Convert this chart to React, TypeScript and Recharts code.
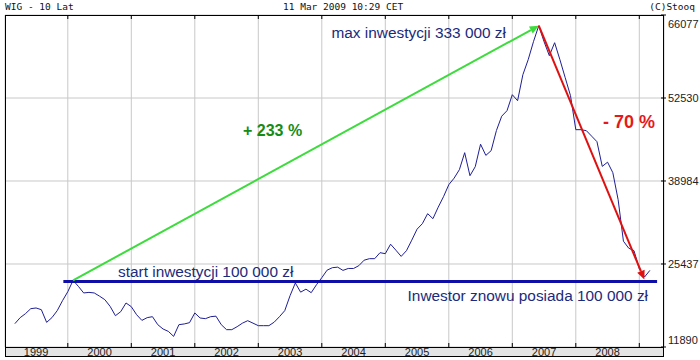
import { ComposedChart, Line, XAxis, YAxis, CartesianGrid, ReferenceLine } from "recharts";

// WIG monthly closes, Mar 1999 .. Mar 2009
const FIRST_YEAR = 1999;
const FIRST_MONTH = 3;
const WIG = [
  15700, 16680, 17330, 18145, 18260, 17980, 15910, 16680, 17820, 19450,
  20920, 22765, 21785, 20710, 20805, 20710, 20185, 19615, 18520, 17000,
  17655, 19075, 18470, 17165, 16235, 16680, 16840, 15535, 14830, 14440,
  13625, 15535, 15650, 15860, 17445, 16625, 16515, 16840, 16920, 15535,
  14720, 14720, 15210, 15780, 16185, 15780, 15370, 15370, 15370, 15940,
  16840, 17820, 20265, 22340, 20840, 21330, 20755, 22060, 23205, 24430,
  24835, 24920, 24395, 24705, 24705, 25165, 26060, 26305, 26305, 27285,
  27120, 28670, 27690, 26680, 27610, 29325, 31120, 32015, 33650, 32835,
  34710, 36425, 38380, 39445, 40830, 43605, 39850, 41320, 44990, 43165,
  43930, 47225, 49560, 50460, 53070, 52090, 56335, 58780, 61720, 64330,
  61720, 59435, 61555, 58780, 55845, 52905, 47360, 47360, 47195, 46295,
  45400, 41370, 42055, 40340, 35935, 29160, 28020, 27610, 24675, 23320,
  24395,
];

const YEAR_TICKS = [2000, 2001, 2002, 2003, 2004, 2005, 2006, 2007, 2008, 2009];
const VALUE_TICKS = [11890, 25437, 38984, 52530, 66077];
const X_DOMAIN = [1999.011, 2009.389];
const Y_DOMAIN = [11890, 66077];

// annotation anchors (time in years, value in index points)
const START_LEVEL = 22600;
const START_LINE_T = [1999.93, 2009.28];
const BUY = { t: 2000.083, v: 22765 };
const PEAK = { t: 2007.417, v: 64330 };
const NOW = { t: 2009.08, v: 22900 };

const data = WIG.map((v, i) => ({ t: FIRST_YEAR + (FIRST_MONTH - 1 + i) / 12, wig: v }));

const W = 700;
const H = 360;
const PLOT_LEFT = 5;
const PLOT_TOP = 15;
const PLOT_RIGHT = 664;
const PLOT_BOTTOM = 347;
const YEAR_PX = (PLOT_RIGHT - PLOT_LEFT) / (X_DOMAIN[1] - X_DOMAIN[0]);

const AXIS_FONT = "'Liberation Sans', Arial, sans-serif";

const YearTick = (props: any) => {
  const { x, payload } = props;
  const label = payload.value - 1;
  return (
    <g>
      <line x1={x} x2={x} y1={PLOT_BOTTOM - 4} y2={PLOT_BOTTOM} stroke="#000" />
      <line x1={x} x2={x} y1={PLOT_TOP} y2={PLOT_TOP + 4} stroke="#000" />
      <text x={x - YEAR_PX / 2} y={PLOT_BOTTOM + 8.5} textAnchor="middle" fontSize={11} fontFamily={AXIS_FONT} fill="#222">
        {label}
      </text>
    </g>
  );
};

const ValueTick = (props: any) => {
  const { y, payload } = props;
  const ly = Math.min(Math.max(y, PLOT_TOP + 9), PLOT_BOTTOM - 7);
  return (
    <g>
      <line x1={PLOT_RIGHT - 3} x2={PLOT_RIGHT + 2} y1={y} y2={y} stroke="#000" />
      <text x={PLOT_RIGHT + 4} y={ly + 4} fontSize={11} fontFamily={AXIS_FONT} fill="#222">
        {payload.value}
      </text>
    </g>
  );
};

const arrow = (color: string) => (props: any) => {
  const { x1, y1, x2, y2 } = props;
  const a = Math.atan2(y2 - y1, x2 - x1);
  const len = 9;
  const half = 4;
  const bx = x2 - len * Math.cos(a);
  const by = y2 - len * Math.sin(a);
  const pts = `${x2},${y2} ${bx + half * Math.sin(a)},${by - half * Math.cos(a)} ${bx - half * Math.sin(a)},${by + half * Math.cos(a)}`;
  return (
    <g>
      <line x1={x1} y1={y1} x2={bx} y2={by} stroke={color} strokeWidth={2} />
      <polygon points={pts} fill={color} />
    </g>
  );
};

export default function App() {
  return (
    <div style={{ position: "absolute", left: 0, top: 0, width: W, height: H, background: "#fff" }}>
      {/* year band under the plot */}
      <div
        style={{
          position: "absolute",
          left: PLOT_LEFT,
          top: PLOT_BOTTOM,
          width: PLOT_RIGHT - PLOT_LEFT,
          height: 10,
          background: "#e4e4e4",
        }}
      />
      <div style={{ position: "absolute", left: 0, top: 0 }}>
        <ComposedChart width={W} height={H} data={data} margin={{ top: PLOT_TOP, right: 0, bottom: 3, left: PLOT_LEFT }}>
          <CartesianGrid stroke="#c8c8c8" />
          <XAxis
            dataKey="t"
            type="number"
            domain={X_DOMAIN}
            allowDataOverflow
            ticks={YEAR_TICKS}
            interval={0}
            height={10}
            axisLine={false}
            tickLine={false}
            tick={<YearTick />}
          />
          <YAxis
            orientation="right"
            type="number"
            domain={Y_DOMAIN}
            allowDataOverflow
            ticks={VALUE_TICKS}
            interval={0}
            width={36}
            axisLine={false}
            tickLine={false}
            tick={<ValueTick />}
          />
          <Line dataKey="wig" stroke="#1e1e96" strokeWidth={1} dot={false} isAnimationActive={false} />
          <ReferenceLine
            segment={[{ x: START_LINE_T[0], y: START_LEVEL }, { x: START_LINE_T[1], y: START_LEVEL }]}
            stroke="#0f0fa8"
            strokeWidth={3}
          />
          <ReferenceLine
            segment={[{ x: BUY.t, y: BUY.v }, { x: PEAK.t, y: PEAK.v }]}
            shape={arrow("#3cdc3c")}
          />
          <ReferenceLine
            segment={[{ x: PEAK.t, y: PEAK.v }, { x: NOW.t, y: NOW.v }]}
            shape={arrow("#e01010")}
          />
        </ComposedChart>
      </div>
      {/* frame, header and notes */}
      <svg width={W} height={H} style={{ position: "absolute", left: 0, top: 0, pointerEvents: "none" }}>
        <rect x={PLOT_LEFT + 0.5} y={PLOT_TOP + 0.5} width={PLOT_RIGHT - PLOT_LEFT - 1} height={356 - PLOT_TOP} fill="none" stroke="#000" />
        <line x1={PLOT_LEFT} x2={PLOT_RIGHT} y1={PLOT_BOTTOM + 0.5} y2={PLOT_BOTTOM + 0.5} stroke="#000" />
        <g fontFamily="'DejaVu Sans Mono', monospace" fontSize={9.5} fill="#111">
          <text x={5} y={10}>WIG - 10 Lat</text>
          <text x={283} y={10}>11 Mar 2009 10:29 CET</text>
          <text x={695} y={10} textAnchor="end">(C)Stooq</text>
        </g>
        <g fontFamily={AXIS_FONT} fontSize={15.4} fill="#1b2a7c">
          <text x={506} y={38} textAnchor="end">max inwestycji 333 000 zł</text>
          <text x={118} y={277}>start inwestycji 100 000 zł</text>
          <text x={648} y={301} textAnchor="end">Inwestor znowu posiada 100 000 zł</text>
        </g>
        <text x={243} y={136} fontFamily={AXIS_FONT} fontSize={16} fontWeight="bold" fill="#168c16">+ 233 %</text>
        <text x={655} y={128} fontFamily={AXIS_FONT} fontSize={18} fontWeight="bold" fill="#e41a1a" textAnchor="end">- 70 %</text>
      </svg>
    </div>
  );
}
